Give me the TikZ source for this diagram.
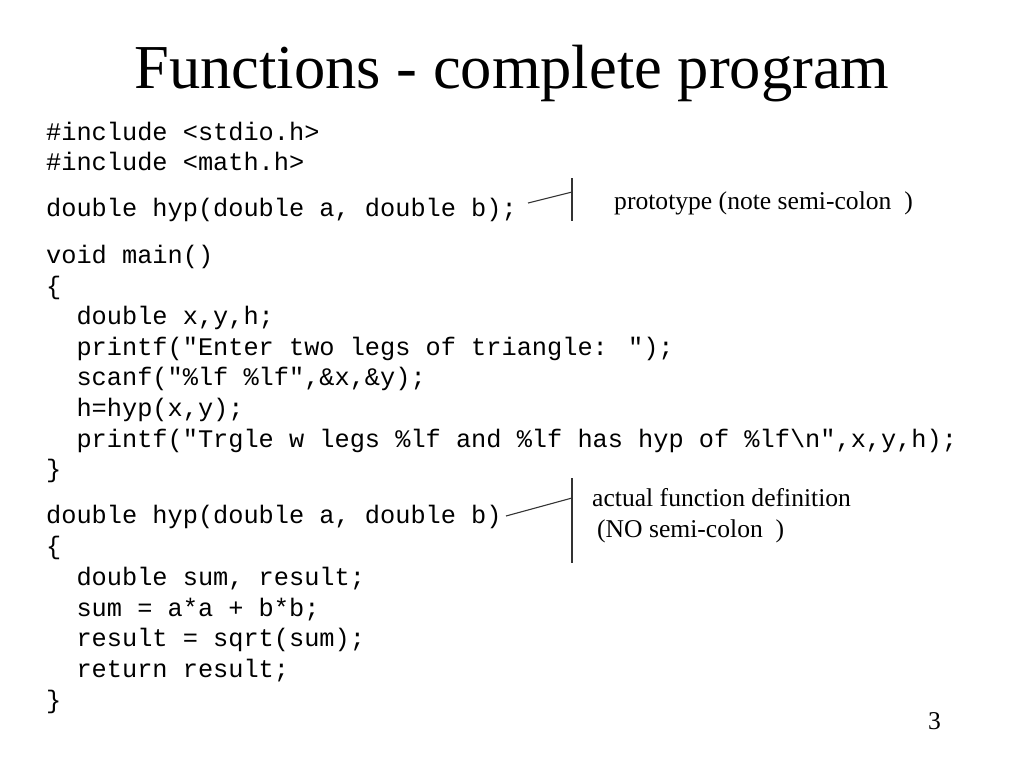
\documentclass[tikz,border=0pt]{standalone}
\usepackage{fontspec}
\setmainfont{Liberation Serif}
\newfontfamily\codefont{Liberation Mono}
\begin{document}
\begin{tikzpicture}[x=1pt,y=-1pt,
  code/.style={anchor=base west,inner sep=0pt,font=\codefont\fontsize{25.3}{30}\selectfont},
  lbl/.style={anchor=base west,inner sep=0pt,font=\fontsize{25.6}{30}\selectfont},
  brk/.style={line width=1.1pt,draw=black!80}]
\useasboundingbox (0,0) rectangle (1024,768);
\node[anchor=base,inner sep=0pt,font=\fontsize{62.5}{66}\selectfont] (title) at (512,88) {Functions - complete program};
\foreach \y/\t [count=\i] in {
 132/{\#include <stdio.h>},
 162/{\#include <math.h>},
 208/{double hyp(double a, double b);},
 255/{void main()},
 286/{\{},
 316/{\ \ double x,y,h;},
 347/{\ \ printf("Enter two legs of triangle: ");},
 377/{\ \ scanf("\%lf \%lf",\&x,\&y);},
 408/{\ \ h=hyp(x,y);},
 439/{\ \ printf("Trgle w legs \%lf and \%lf has hyp of \%lf\textbackslash n",x,y,h);},
 469/{\}},
 515/{double hyp(double a, double b)},
 546/{\{},
 577/{\ \ double sum, result;},
 608/{\ \ sum = a*a + b*b;},
 638/{\ \ result = sqrt(sum);},
 669/{\ \ return result;},
 700/{\}}}
 \node[code] (c\i) at (46,\y+8) {\t};
\coordinate (p1) at (528,203); \coordinate (p2) at (572,192);
\coordinate (p3) at (572,178); \coordinate (p4) at (572,221);
\draw[brk] (p1) -- (p2); \draw[brk] (p3) -- (p4);
\coordinate (q1) at (506,516); \coordinate (q2) at (572,498);
\coordinate (q3) at (572,478); \coordinate (q4) at (572,563);
\draw[brk] (q1) -- (q2); \draw[brk] (q3) -- (q4);
\node[lbl] (l1) at (614,209) {prototype (note semi-colon\ \ )};
\node[lbl] (l2) at (592,506) {actual function definition};
\node[lbl] (l3) at (597,537) {(NO semi-colon\ \ )};
\node[lbl] (pg) at (928,729) {3};
\end{tikzpicture}
\end{document}
